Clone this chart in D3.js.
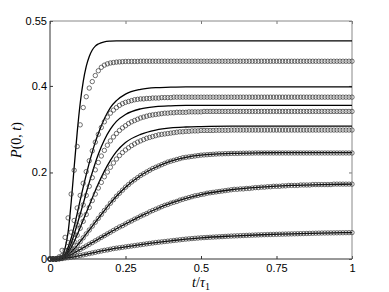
<!DOCTYPE html>
<html>
<head>
<meta charset="utf-8">
<script src="https://cdn.jsdelivr.net/npm/d3@7"></script>
<style>
  body { margin: 0; background: #fff; }
  .tick text { font-family: "Liberation Sans", Arial, sans-serif; font-size: 11px; fill: #000; }
</style>
</head>
<body>
<div id="chart"></div>
<script>
var svgWidth = 389;
var svgHeight = 292;

var margin = { top: 21, right: 37, bottom: 33, left: 50 };
var width = svgWidth - margin.left - margin.right;
var height = svgHeight - margin.top - margin.bottom;

// tick labels
var xTicks = [0, 0.25, 0.5, 0.75, 1];
var xTickLabels = ["0", "0.25", "0.5", "0.75", "1"];
var yTicks = [0, 0.2, 0.4, 0.55];
var yTickLabels = ["0", "0.2", "0.4", "0.55"];

// solid curves (sampled at tLine)
var tLine = [0, 0.02, 0.03, 0.04, 0.05, 0.06, 0.07, 0.08, 0.09, 0.1, 0.11, 0.12, 0.13, 0.14, 0.15,
  0.16, 0.18, 0.2, 0.22, 0.25, 0.3, 0.35, 0.4, 0.45, 0.5, 0.6, 0.7, 0.8, 0.9, 1];
var line1 = [0, 0, 0.002, 0.006, 0.025, 0.062, 0.13, 0.212, 0.292, 0.36, 0.41, 0.445, 0.468, 0.483, 0.492,
  0.497, 0.502, 0.5035, 0.504, 0.504, 0.504, 0.504, 0.504, 0.504, 0.504, 0.504, 0.504, 0.504, 0.504, 0.504];
var line2 = [0, 0, 0.001, 0.004, 0.012, 0.027, 0.048, 0.075, 0.105, 0.136, 0.166, 0.195, 0.222, 0.247, 0.27,
  0.29, 0.324, 0.35, 0.366, 0.381, 0.392, 0.396, 0.397, 0.398, 0.398, 0.398, 0.398, 0.398, 0.398, 0.398];
var line3 = [0, 0, 0.001, 0.003, 0.009, 0.02, 0.036, 0.057, 0.08, 0.104, 0.128, 0.153, 0.177, 0.2, 0.222,
  0.242, 0.275, 0.3, 0.318, 0.334, 0.347, 0.352, 0.354, 0.355, 0.355, 0.355, 0.355, 0.355, 0.355, 0.355];
var line4 = [0, 0, 0.001, 0.003, 0.007, 0.015, 0.026, 0.04, 0.056, 0.073, 0.09, 0.107, 0.124, 0.141, 0.158,
  0.174, 0.203, 0.228, 0.248, 0.269, 0.288, 0.298, 0.303, 0.305, 0.306, 0.307, 0.307, 0.307, 0.307, 0.307];
var line5 = [0, 0, 0.001, 0.002, 0.005, 0.01, 0.016, 0.023, 0.031, 0.04, 0.049, 0.058, 0.067, 0.076, 0.085,
  0.094, 0.112, 0.129, 0.145, 0.166, 0.193, 0.212, 0.226, 0.235, 0.24, 0.244, 0.2455, 0.246, 0.246, 0.246];
var line6 = [0, 0, 0.001, 0.002, 0.004, 0.007, 0.01, 0.014, 0.018, 0.022, 0.026, 0.03, 0.034, 0.038, 0.042,
  0.046, 0.054, 0.062, 0.07, 0.081, 0.099, 0.115, 0.129, 0.14, 0.149, 0.16, 0.166, 0.17, 0.172, 0.173];
var line7 = [0, 0, 0, 0.001, 0.002, 0.003, 0.004, 0.005, 0.0065, 0.008, 0.0095, 0.011, 0.0125, 0.014, 0.0155,
  0.017, 0.02, 0.0225, 0.025, 0.028, 0.033, 0.038, 0.042, 0.046, 0.049, 0.053, 0.056, 0.058, 0.06, 0.061];

// circle markers, one every 0.01 in t
var tDots = d3.range(101).map(function(i) { return i / 100; });
var dots1 = [0, 0, 0, 0.005, 0.02, 0.05, 0.095, 0.15, 0.205, 0.26,
  0.31, 0.35, 0.375, 0.395, 0.41, 0.424, 0.435, 0.443, 0.448, 0.451,
  0.453, 0.454, 0.455, 0.4555, 0.456, 0.4565, 0.4565, 0.4565, 0.4565, 0.4565,
  0.457, 0.457, 0.457, 0.457, 0.457, 0.457, 0.457, 0.457, 0.457, 0.457,
  0.457, 0.457, 0.457, 0.457, 0.457, 0.457, 0.457, 0.457, 0.457, 0.457,
  0.457, 0.457, 0.457, 0.457, 0.457, 0.457, 0.457, 0.457, 0.457, 0.457,
  0.457, 0.457, 0.457, 0.457, 0.457, 0.457, 0.457, 0.457, 0.457, 0.457,
  0.457, 0.457, 0.457, 0.457, 0.457, 0.457, 0.457, 0.457, 0.457, 0.457,
  0.457, 0.457, 0.457, 0.457, 0.457, 0.457, 0.457, 0.457, 0.457, 0.457,
  0.457, 0.457, 0.457, 0.457, 0.457, 0.457, 0.457, 0.457, 0.457, 0.457,
  0.457];
var dots2 = [0, 0, 0, 0.002, 0.008, 0.02, 0.038, 0.062, 0.089, 0.118,
  0.147, 0.175, 0.202, 0.227, 0.25, 0.27, 0.288, 0.304, 0.317, 0.328,
  0.337, 0.344, 0.35, 0.355, 0.359, 0.362, 0.364, 0.366, 0.368, 0.369,
  0.37, 0.37, 0.371, 0.371, 0.372, 0.372, 0.372, 0.373, 0.373, 0.373,
  0.373, 0.374, 0.374, 0.374, 0.374, 0.374, 0.374, 0.374, 0.374, 0.374,
  0.374, 0.374, 0.374, 0.374, 0.374, 0.374, 0.374, 0.374, 0.374, 0.374,
  0.374, 0.374, 0.374, 0.374, 0.374, 0.374, 0.374, 0.374, 0.374, 0.374,
  0.374, 0.374, 0.374, 0.374, 0.374, 0.374, 0.374, 0.374, 0.374, 0.374,
  0.374, 0.374, 0.374, 0.374, 0.374, 0.374, 0.374, 0.374, 0.374, 0.374,
  0.374, 0.374, 0.374, 0.374, 0.374, 0.374, 0.374, 0.374, 0.374, 0.374,
  0.374];
var dots3 = [0, 0, 0, 0.001, 0.004, 0.01, 0.021, 0.037, 0.057, 0.079,
  0.102, 0.125, 0.147, 0.168, 0.188, 0.206, 0.223, 0.238, 0.251, 0.263,
  0.273, 0.282, 0.29, 0.297, 0.303, 0.308, 0.313, 0.317, 0.32, 0.323,
  0.326, 0.328, 0.33, 0.332, 0.333, 0.334, 0.335, 0.336, 0.337, 0.337,
  0.338, 0.338, 0.339, 0.339, 0.339, 0.339, 0.34, 0.34, 0.34, 0.34,
  0.34, 0.341, 0.341, 0.341, 0.341, 0.341, 0.341, 0.341, 0.341, 0.341,
  0.341, 0.341, 0.341, 0.341, 0.341, 0.341, 0.341, 0.341, 0.341, 0.341,
  0.341, 0.341, 0.341, 0.341, 0.341, 0.341, 0.341, 0.341, 0.341, 0.341,
  0.341, 0.341, 0.341, 0.341, 0.341, 0.341, 0.341, 0.341, 0.341, 0.341,
  0.341, 0.341, 0.341, 0.341, 0.341, 0.341, 0.341, 0.341, 0.341, 0.341,
  0.341];
var dots4 = [0, 0, 0, 0.001, 0.003, 0.007, 0.015, 0.026, 0.04, 0.055,
  0.071, 0.087, 0.103, 0.119, 0.135, 0.15, 0.164, 0.177, 0.19, 0.201,
  0.212, 0.222, 0.231, 0.239, 0.246, 0.252, 0.257, 0.262, 0.266, 0.27,
  0.273, 0.276, 0.279, 0.281, 0.283, 0.285, 0.287, 0.288, 0.289, 0.29,
  0.291, 0.292, 0.293, 0.294, 0.294, 0.295, 0.295, 0.296, 0.296, 0.296,
  0.297, 0.297, 0.297, 0.297, 0.297, 0.2975, 0.2975, 0.2975, 0.2975, 0.2975,
  0.298, 0.298, 0.298, 0.298, 0.298, 0.298, 0.298, 0.298, 0.298, 0.298,
  0.298, 0.298, 0.298, 0.298, 0.298, 0.298, 0.298, 0.298, 0.298, 0.298,
  0.298, 0.298, 0.298, 0.298, 0.298, 0.298, 0.298, 0.298, 0.298, 0.298,
  0.298, 0.298, 0.298, 0.298, 0.298, 0.298, 0.298, 0.298, 0.298, 0.298,
  0.298];
var dots5 = [0, 0, 0, 0.001, 0.002, 0.005, 0.01, 0.016, 0.023, 0.031,
  0.04, 0.049, 0.058, 0.067, 0.076, 0.085, 0.094, 0.103, 0.112, 0.12,
  0.129, 0.137, 0.145, 0.152, 0.159, 0.166, 0.172, 0.178, 0.183, 0.188,
  0.193, 0.197, 0.201, 0.205, 0.209, 0.212, 0.215, 0.218, 0.221, 0.224,
  0.226, 0.228, 0.23, 0.232, 0.234, 0.235, 0.236, 0.237, 0.238, 0.239,
  0.24, 0.2405, 0.241, 0.2415, 0.242, 0.2425, 0.243, 0.243, 0.2435, 0.2435,
  0.244, 0.244, 0.244, 0.2443, 0.2445, 0.2445, 0.2447, 0.2447, 0.245, 0.245,
  0.245, 0.245, 0.245, 0.245, 0.245, 0.245, 0.245, 0.245, 0.245, 0.245,
  0.245, 0.245, 0.245, 0.245, 0.245, 0.245, 0.245, 0.245, 0.245, 0.245,
  0.245, 0.245, 0.245, 0.245, 0.245, 0.245, 0.245, 0.245, 0.245, 0.245,
  0.245];
var dots6 = [0, 0, 0, 0.001, 0.002, 0.004, 0.007, 0.01, 0.014, 0.018,
  0.022, 0.026, 0.03, 0.034, 0.038, 0.042, 0.046, 0.05, 0.054, 0.058,
  0.062, 0.066, 0.07, 0.074, 0.077, 0.081, 0.085, 0.088, 0.092, 0.095,
  0.099, 0.102, 0.105, 0.109, 0.112, 0.115, 0.118, 0.121, 0.124, 0.126,
  0.129, 0.131, 0.133, 0.136, 0.138, 0.14, 0.142, 0.144, 0.146, 0.147,
  0.149, 0.15, 0.152, 0.153, 0.154, 0.155, 0.156, 0.157, 0.158, 0.159,
  0.16, 0.161, 0.161, 0.162, 0.162, 0.163, 0.163, 0.164, 0.165, 0.165,
  0.166, 0.166, 0.167, 0.167, 0.168, 0.168, 0.168, 0.169, 0.169, 0.17,
  0.17, 0.17, 0.17, 0.171, 0.171, 0.171, 0.171, 0.172, 0.172, 0.172,
  0.172, 0.172, 0.172, 0.172, 0.173, 0.173, 0.173, 0.173, 0.173, 0.173,
  0.173];
var dots7 = [0, 0, 0, 0, 0.001, 0.002, 0.003, 0.004, 0.005, 0.0065,
  0.008, 0.0095, 0.011, 0.0125, 0.014, 0.0155, 0.017, 0.0185, 0.02, 0.021,
  0.0225, 0.024, 0.025, 0.026, 0.027, 0.028, 0.029, 0.03, 0.031, 0.032,
  0.033, 0.034, 0.035, 0.036, 0.037, 0.038, 0.0388, 0.0396, 0.0404, 0.0412,
  0.042, 0.0428, 0.0436, 0.0444, 0.0452, 0.046, 0.0466, 0.0472, 0.0478, 0.0484,
  0.049, 0.0494, 0.0498, 0.0502, 0.0506, 0.051, 0.0514, 0.0518, 0.0522, 0.0526,
  0.053, 0.0533, 0.0536, 0.0539, 0.0542, 0.0545, 0.0548, 0.0551, 0.0554, 0.0557,
  0.056, 0.0562, 0.0564, 0.0566, 0.0568, 0.057, 0.0572, 0.0574, 0.0576, 0.0578,
  0.058, 0.0582, 0.0584, 0.0586, 0.0588, 0.059, 0.0592, 0.0594, 0.0596, 0.0598,
  0.06, 0.0601, 0.0602, 0.0603, 0.0604, 0.0605, 0.0606, 0.0607, 0.0608, 0.0609,
  0.061];

var lineSeries = [line1, line2, line3, line4, line5, line6, line7];
var dotSeries = [dots1, dots2, dots3, dots4, dots5, dots6, dots7];

var svg = d3.select("#chart")
  .append("svg")
  .attr("width", svgWidth)
  .attr("height", svgHeight);

var chartGroup = svg.append("g")
  .attr("transform", `translate(${margin.left}, ${margin.top})`);

var xScale = d3.scaleLinear().domain([0, 1]).range([0, width]);
var yScale = d3.scaleLinear().domain([0, 0.55]).range([height, 0]);

// axes, ticks pointing inward
var bottomAxis = d3.axisBottom(xScale).tickValues(xTicks)
  .tickFormat(function(d, i) { return xTickLabels[i]; })
  .tickSizeInner(-3).tickSizeOuter(0).tickPadding(5);
var leftAxis = d3.axisLeft(yScale).tickValues(yTicks)
  .tickFormat(function(d, i) { return yTickLabels[i]; })
  .tickSizeInner(-3).tickSizeOuter(0).tickPadding(3);
var topAxis = d3.axisTop(xScale).tickValues(xTicks).tickFormat("")
  .tickSizeInner(-3).tickSizeOuter(0);
var rightAxis = d3.axisRight(yScale).tickValues(yTicks).tickFormat("")
  .tickSizeInner(-3).tickSizeOuter(0);

chartGroup.append("g").call(topAxis)
  .call(g => g.select(".domain").remove())
  .selectAll("line").attr("stroke", "#777");
chartGroup.append("g").attr("transform", `translate(${width}, 0)`).call(rightAxis)
  .call(g => g.select(".domain").remove())
  .selectAll("line").attr("stroke", "#777");
chartGroup.append("g").attr("transform", `translate(0, ${height})`).call(bottomAxis)
  .call(g => g.select(".domain").remove())
  .selectAll("line").attr("stroke", "#333");
chartGroup.append("g").call(leftAxis)
  .call(g => g.select(".domain").remove())
  .selectAll("line").attr("stroke", "#333");

// box
chartGroup.append("path")
  .attr("d", `M0,0H${width}V${height}`)
  .attr("fill", "none").attr("stroke", "#888").attr("stroke-width", 1);
chartGroup.append("path")
  .attr("d", `M0,0V${height}H${width}`)
  .attr("fill", "none").attr("stroke", "#333").attr("stroke-width", 1);

var lineGen = d3.line()
  .x(function(d, i) { return xScale(tLine[i]); })
  .y(function(d) { return yScale(d); })
  .curve(d3.curveMonotoneX);

chartGroup.selectAll(".curve")
  .data(lineSeries)
  .enter()
  .append("path")
  .attr("class", "curve")
  .attr("d", lineGen)
  .attr("fill", "none")
  .attr("stroke", "#000")
  .attr("stroke-width", 1.3);

dotSeries.forEach(function(series) {
  chartGroup.append("g")
    .selectAll("circle")
    .data(series)
    .enter()
    .append("circle")
    .attr("cx", function(d, i) { return xScale(tDots[i]); })
    .attr("cy", function(d) { return yScale(d); })
    .attr("r", 2.2)
    .attr("fill", "none")
    .attr("stroke", "#333")
    .attr("stroke-width", 0.7);
});

// axis titles
svg.append("text")
  .attr("x", margin.left + width / 2)
  .attr("y", 287)
  .attr("text-anchor", "middle")
  .style("font-family", "'Liberation Serif', 'Times New Roman', serif")
  .style("font-size", "14px")
  .html("<tspan font-style='italic'>t</tspan>/<tspan font-style='italic'>τ</tspan><tspan font-size='10px' dy='3'>1</tspan>");

svg.append("text")
  .attr("transform", `translate(21, ${margin.top + height / 2}) rotate(-90)`)
  .attr("text-anchor", "middle")
  .style("font-family", "'Liberation Serif', 'Times New Roman', serif")
  .style("font-size", "14px")
  .html("<tspan font-style='italic'>P</tspan>(0, <tspan font-style='italic'>t</tspan>)");
</script>
</body>
</html>
